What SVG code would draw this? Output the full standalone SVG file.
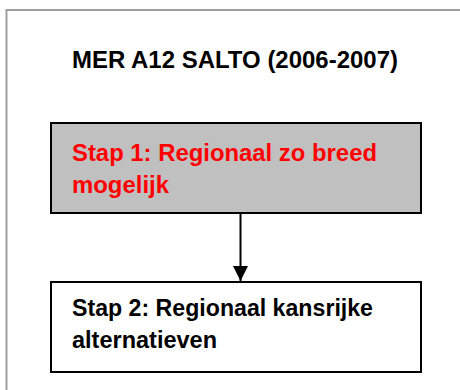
<svg xmlns="http://www.w3.org/2000/svg" width="460" height="390" viewBox="0 0 460 390">
<style>
.t{font-family:"Liberation Sans",Arial,sans-serif;font-weight:bold;font-size:23px}
.box{stroke:#000;stroke-width:2}
</style>
<defs>
<marker id="ah" markerUnits="userSpaceOnUse" markerWidth="16" markerHeight="17" refX="15" refY="8" orient="auto" viewBox="0 0 16 16">
<path d="M0,0.5 L15,8 L0,15.5 Z" fill="#000"/>
</marker>
</defs>
<rect width="460" height="390" fill="#fff"/>
<path d="M6.5,400 V10 H470" fill="none" stroke="#a0a0a0" stroke-width="2"/>
<text class="t" x="72" y="68" textLength="326" lengthAdjust="spacingAndGlyphs">MER A12 SALTO (2006-2007)</text>
<g id="connectors">
<line x1="240.5" y1="213" x2="240.5" y2="281" stroke="#000" stroke-width="2" marker-end="url(#ah)"/>
</g>
<g id="step1">
<rect class="box" x="51" y="123" width="370" height="90" fill="#c0c0c0"/>
<text class="t" fill="#ff0000" x="72" y="161" textLength="305" lengthAdjust="spacingAndGlyphs">Stap 1: Regionaal zo breed</text>
<text class="t" fill="#ff0000" x="72" y="193" textLength="97" lengthAdjust="spacingAndGlyphs">mogelijk</text>
</g>
<g id="step2">
<rect class="box" x="51" y="282" width="370" height="90" fill="#fff"/>
<text class="t" fill="#000" x="72" y="316" textLength="301" lengthAdjust="spacingAndGlyphs">Stap 2: Regionaal kansrijke</text>
<text class="t" fill="#000" x="72" y="348" textLength="145" lengthAdjust="spacingAndGlyphs">alternatieven</text>
</g>
</svg>
